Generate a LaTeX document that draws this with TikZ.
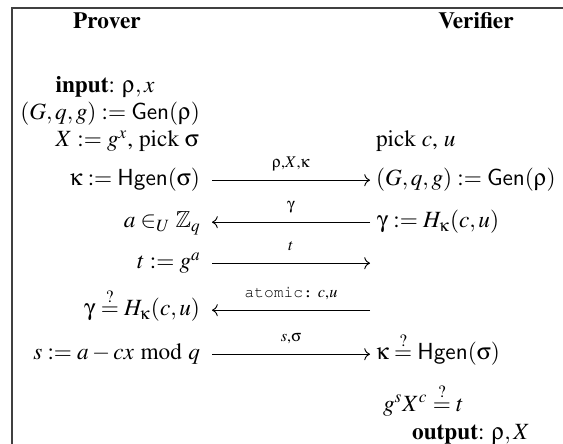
\documentclass[tikz,border=0pt]{standalone}
\usepackage[T1]{fontenc}
\usepackage{mathptmx}
\usepackage{helvet}
\usepackage{courier}
\usepackage{amssymb}
\usepackage[Symbol]{upgreek}
\usetikzlibrary{positioning, arrows.meta, calc}

\begin{document}
\begin{tikzpicture}[
    x=0.43pt, y=-0.43pt,
    every node/.style={inner sep=0pt, outer sep=0pt},
    party/.style={font=\bfseries, anchor=base},
    lstep/.style={anchor=base east},
    rstep/.style={anchor=base west},
    msg/.style={->, line width=0.4pt},
    msglabel/.style={anchor=base, yshift=5.3pt, font=\scriptsize}
]
\useasboundingbox (0,0) rectangle (563,444);

% --- cornice ---
\draw[line width=0.6pt, black!75] (563,8) -- (12,8) -- (12,444);

% --- intestazioni ---
\node[party] (prover) at (107,29) {Prover};
\node[party] (verifier) at (476,29) {Verifier};

% --- colonna del prover ---
\node[anchor=base] (pIn) at (105,93) {\textbf{input}: $\uprho, x$};
\node[lstep] (pGen) at (200,120) {$(G,q,g) := \mathsf{Gen}(\uprho)$};
\node[lstep] (pX) at (199,147) {$X := g^x$, pick $\upsigma$};
\node[lstep] (pKap) at (200,186) {$\upkappa := \mathsf{Hgen}(\upsigma)$};
\node[lstep] (pA) at (201,228) {$a \in_U \mathbb{Z}_q$};
\node[lstep] (pT) at (201,269) {$t := g^a$};
\node[lstep] (pGam) at (200,316) {$\upgamma \stackrel{?}{=} H_\upkappa(c,u)$};
\node[lstep] (pS) at (200,360) {$s := a - cx \bmod q$};

% --- colonna del verifier ---
\node[rstep] (vPick) at (376,147) {pick $c$, $u$};
\node[rstep] (vGen) at (376,186) {$(G,q,g) := \mathsf{Gen}(\uprho)$};
\node[rstep] (vGam) at (377,228) {$\upgamma := H_\upkappa(c,u)$};
\node[rstep] (vKap) at (376,360) {$\upkappa \stackrel{?}{=} \mathsf{Hgen}(\upsigma)$};
\node[rstep] (vChk) at (383,411) {$g^s X^c \stackrel{?}{=} t$};
\node[anchor=base] (vOut) at (471,439) {\textbf{output}: $\uprho, X$};

% --- messaggi ---
\coordinate (m1a) at (212,180.2); \coordinate (m1b) at (370,180.2);
\coordinate (m2a) at (212,222.2); \coordinate (m2b) at (370,222.2);
\coordinate (m3a) at (212,263.2); \coordinate (m3b) at (370,263.2);
\coordinate (m4a) at (212,310.2); \coordinate (m4b) at (370,310.2);
\coordinate (m5a) at (212,354.2); \coordinate (m5b) at (370,354.2);

\draw[msg] (m1a) -- node[msglabel] {$\uprho$,$X$,$\upkappa$} (m1b);
\draw[msg] (m2b) -- node[msglabel] {$\upgamma$} (m2a);
\draw[msg] (m3a) -- node[msglabel] {$t$} (m3b);
\draw[msg] (m4b) -- node[msglabel] {\texttt{atomic:} $c$,$u$} (m4a);
\draw[msg] (m5a) -- node[msglabel] {$s$,$\upsigma$} (m5b);

\end{tikzpicture}
\end{document}
